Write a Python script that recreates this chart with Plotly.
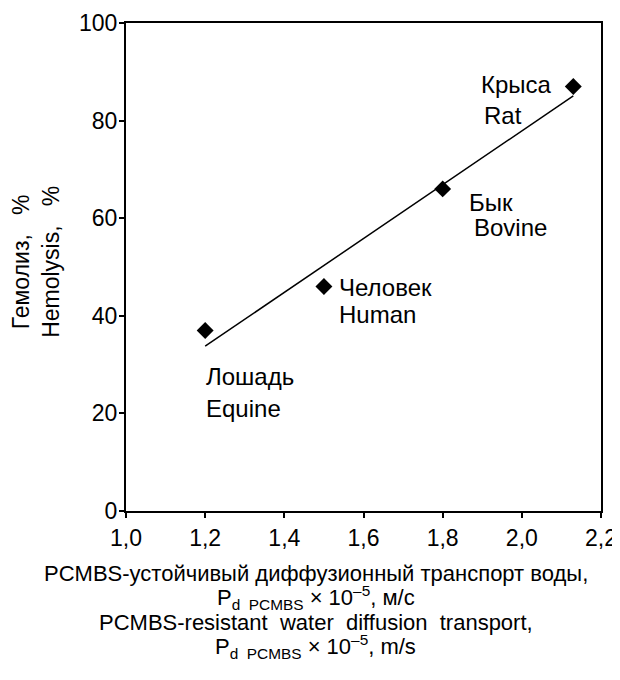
import numpy as np
import plotly.graph_objects as go

# Data
species_ru = ["Лошадь", "Человек", "Бык", "Крыса"]
species_en = ["Equine", "Human", "Bovine", "Rat"]
pd_pcmbs = [1.20, 1.50, 1.80, 2.13]
hemolysis = [37, 46, 66, 87]
x_ticks = [1.0, 1.2, 1.4, 1.6, 1.8, 2.0, 2.2]
y_ticks = [0, 20, 40, 60, 80, 100]

# Linear trend (least squares)
slope, intercept = np.polyfit(pd_pcmbs, hemolysis, 1)
trend_x = [min(pd_pcmbs), max(pd_pcmbs)]
trend_y = [slope * v + intercept for v in trend_x]

FONT = "Liberation Sans, Arial, sans-serif"
FS = 23

fig = go.Figure()
fig.add_trace(go.Scatter(x=trend_x, y=trend_y, mode="lines",
                         line=dict(color="black", width=1.5), showlegend=False))
fig.add_trace(go.Scatter(x=pd_pcmbs, y=hemolysis, mode="markers",
                         marker=dict(symbol="diamond", size=13, color="black"),
                         showlegend=False))

# label placement (style): data coords
label_pos = [  # (x_ru, y_ru, x_en, y_en)
    (1.197, 27.5, 1.197, 21.1),
    (1.533, 45.9, 1.533, 40.2),
    (1.862, 63.3, 1.874, 58.0),
    (1.892, 87.3, 1.900, 81.1),
]
for ru, en, (xr, yr, xe, ye) in zip(species_ru, species_en, label_pos):
    fig.add_annotation(x=xr, y=yr, text=ru, showarrow=False, xanchor="left",
                       yanchor="middle", font=dict(family=FONT, size=24, color="black"))
    fig.add_annotation(x=xe, y=ye, text=en, showarrow=False, xanchor="left",
                       yanchor="middle", font=dict(family=FONT, size=24, color="black"))

# x axis title (4 lines)
x_title_lines = [
    "PCMBS-устойчивый диффузионный транспорт воды,",
    "P<sub>d  PCMBS</sub> × 10<sup>–5</sup>, м/с",
    "PCMBS-resistant  water  diffusion  transport,",
    "P<sub>d  PCMBS</sub> × 10<sup>–5</sup>, m/s",
]
x_title_y = [573, 597, 622, 646]
for t, yp in zip(x_title_lines, x_title_y):
    fig.add_annotation(x=0.5, xref="paper", xshift=-48, y=(511 - yp) / 488, yref="paper",
                       text=t, showarrow=False, xanchor="center", yanchor="middle",
                       font=dict(family=FONT, size=22, color="black"))

# y axis title
fig.add_annotation(x=-0.19, xref="paper", y=0.51, yref="paper",
                   text="Гемолиз,&nbsp;&nbsp;&nbsp;%<br>Hemolysis,&nbsp;&nbsp;&nbsp;%",
                   textangle=-90, showarrow=False,
                   xanchor="center", yanchor="middle",
                   font=dict(family=FONT, size=23, color="black"))

axis_common = dict(showgrid=False, zeroline=False, showline=True, linecolor="black",
                   linewidth=2, mirror=True, ticks="outside", ticklen=5, tickwidth=2,
                   tickcolor="black", automargin=False,
                   tickfont=dict(family=FONT, size=FS, color="black"))

fig.update_xaxes(range=[1.0, 2.2], tickvals=x_ticks, tickformat=".1f", **axis_common)
fig.update_yaxes(range=[0, 100], tickvals=y_ticks, ticklabelstandoff=-3, **axis_common)

fig.update_layout(width=612, height=656, margin=dict(l=118, r=19, t=15, b=153),
                  paper_bgcolor="white", plot_bgcolor="white", separators=", ",
                  font=dict(family=FONT, color="black"))

fig.write_html("out.html")
